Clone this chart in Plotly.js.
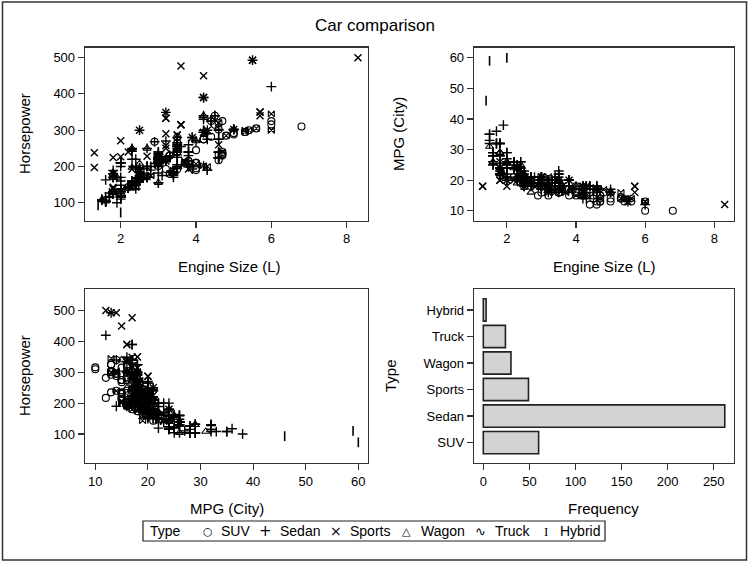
<!DOCTYPE html>
<html>
<head>
<meta charset="utf-8">
<script src="https://cdn.plot.ly/plotly-3.0.1.min.js"></script>
<style>html,body{margin:0;padding:0;background:#fff;}#chart{width:750px;height:563px;}</style>
</head>
<body>
<div id="chart"></div>
<script>
// ---------- DATA ----------
var types = ['SUV', 'Sedan', 'Sports', 'Wagon', 'Truck', 'Hybrid'];
var frequency = [60, 262, 49, 30, 24, 3];

var suvEngine = [3.5,3.0,4.4,4.2,3.4,5.3,4.6,5.3,4.2,2.5,4.7,6.8,4.6,4.0,3.0,4.2,4.8,6.0,2.4,3.5,6.0,2.7,3.5,4.5,4.2,3.2,4.0,3.7,4.0,3.5,4.6,2.5,4.4,4.7,4.7,3.3,4.6,5.4,5.0,5.0,4.0,3.8,3.8,2.4,5.6,3.5,3.3,4.5,2.2,2.5,2.5,2.5,2.7,4.0,3.3,4.7,4.7,2.4,3.2,2.9];
var suvHP     = [265,225,325,275,185,295,320,295,275,165,230,310,232,210,201,275,285,325,160,240,316,173,280,315,275,193,195,210,190,192,217,174,282,235,235,230,302,300,292,288,210,215,215,160,305,240,180,340,143,165,165,165,185,245,230,325,240,161,220,268];
var suvMPG    = [17,16,16,15,19,14,16,14,16,19,15,10,15,15,18,15,16,13,21,17,10,20,16,15,15,17,16,17,16,16,12,18,12,15,13,18,13,13,13,14,16,17,15,21,13,16,17,14,21,21,21,19,18,18,18,13,14,22,15,15];

var sedanEngine = [3.5,3.5,2.4,3.2,2.0,1.8,1.8,3.0,3.0,3.0,3.0,3.0,3.0,3.0,2.7,4.2,4.2,4.2,2.5,2.5,2.5,3.0,3.0,3.0,2.5,3.0,4.4,4.4,4.4,3.1,3.8,3.8,3.8,3.8,3.8,3.8,3.6,4.6,4.6,4.6,1.6,1.6,2.2,2.2,2.2,3.4,2.2,3.5,3.4,3.8,3.8,3.5,3.5,3.8,2.4,2.4,2.4,2.7,3.5,2.7,3.5,2.4,2.4,3.5,2.0,2.0,2.7,2.4,2.4,2.0,2.0,2.0,2.0,2.0,3.0,3.0,4.6,4.6,4.6,1.7,1.7,1.7,1.7,2.0,2.4,2.4,3.0,3.0,1.6,1.6,1.6,2.0,2.0,2.0,2.7,2.7,3.5,3.5,3.5,3.5,3.5,3.5,4.5,4.5,2.5,3.0,3.0,4.2,4.2,4.2,4.2,4.2,2.4,1.6,1.6,1.8,1.8,1.8,2.7,3.5,3.3,3.0,4.3,4.3,3.0,3.0,3.0,3.0,3.9,3.9,4.6,4.6,4.6,1.6,1.6,2.0,2.3,2.3,1.8,3.2,2.6,3.2,3.2,3.2,5.0,5.5,3.2,5.0,3.2,5.0,4.3,5.0,4.6,4.6,3.0,4.6,3.0,4.6,2.0,2.0,2.4,2.0,3.5,3.8,1.8,1.8,2.5,2.5,3.5,3.5,3.5,3.5,2.2,3.4,2.2,3.4,3.8,3.8,3.4,2.0,2.0,2.3,2.3,2.0,2.0,2.2,2.2,2.2,2.2,2.2,2.2,3.0,1.5,2.5,2.5,2.5,2.5,3.0,3.0,2.3,2.3,2.0,2.0,1.8,1.8,1.8,1.5,1.5,1.5,2.4,3.0,2.4,3.3,3.0,3.3,3.0,3.0,3.3,3.3,1.8,1.8,1.9,2.0,2.8,2.0,2.0,1.8,2.8,4.0,4.2,6.0,1.9,2.5,2.3,2.5,2.5,2.9,2.9,2.4,2.3,2.4,3.8,3.8,3.9,3.5,3.5,3.0,4.2,3.4,3.4,4.3,4.3];
var sedanHP     = [225,225,200,270,200,170,170,220,220,220,220,220,220,220,250,300,330,340,184,184,184,225,225,225,184,225,325,325,325,175,205,200,240,205,205,240,255,275,300,275,103,103,140,140,140,180,145,200,180,200,240,200,200,200,150,150,150,200,250,200,232,220,150,255,132,132,200,150,150,130,110,130,130,170,155,201,224,224,239,115,117,115,127,160,160,160,240,240,103,103,103,138,138,138,170,170,194,194,260,280,260,255,340,340,192,227,235,294,390,294,294,390,138,104,104,124,124,124,170,195,225,220,300,290,215,215,232,232,280,280,239,239,239,115,163,148,160,160,189,215,168,215,215,349,302,493,215,302,221,302,275,302,224,224,155,224,201,302,120,120,160,120,205,230,126,126,175,165,245,265,265,240,140,170,140,175,200,260,185,210,210,220,250,210,210,140,140,140,140,140,140,182,108,165,165,165,165,212,212,155,155,119,119,130,130,130,108,108,108,157,210,157,225,210,225,210,210,230,230,180,180,100,115,200,115,115,170,190,270,335,420,170,197,247,300,194,208,268,197,242,150,215,215,193,240,195,200,201,185,185,190,190];
var sedanMPG    = [18,18,22,20,24,22,23,20,17,18,20,18,20,18,18,17,17,14,20,20,19,20,20,19,19,20,18,18,18,20,20,20,18,20,20,18,18,18,18,18,28,28,26,26,26,21,24,22,21,20,18,23,22,18,22,22,22,21,18,21,19,21,22,18,29,29,21,21,21,26,27,26,26,21,20,19,17,17,17,32,36,32,32,26,26,26,21,21,29,29,29,26,26,26,19,19,17,17,18,18,18,19,17,17,18,18,18,18,17,18,18,17,23,26,25,24,24,24,20,17,20,18,18,18,18,18,20,20,17,17,17,17,17,28,25,26,25,24,22,19,20,19,20,16,16,13,20,17,19,16,18,16,17,17,20,17,19,17,25,25,23,25,18,18,28,28,21,23,21,20,20,19,24,20,24,20,20,18,19,20,20,21,21,21,21,26,26,26,26,26,24,21,32,22,21,21,20,19,19,25,25,24,22,32,32,32,35,33,35,24,21,24,20,21,20,21,21,19,19,24,24,38,24,21,24,24,22,19,18,16,12,22,20,20,18,19,20,19,21,20,20,18,18,17,18,16,18,16,19,19,14,16];

var sportsEngine = [3.2,4.2,1.8,1.8,3.2,3.2,3.2,2.5,3.0,4.6,5.7,5.7,3.2,8.3,3.8,4.6,3.9,2.2,2.7,4.2,4.2,4.2,4.2,4.3,1.8,1.8,1.3,1.3,5.0,5.5,5.5,2.3,3.2,3.0,3.0,2.0,3.5,3.5,3.6,3.6,3.6,3.6,2.7,3.2,2.0,2.5,1.8,1.8,5.7];
var sportsHP     = [290,450,180,225,250,333,333,184,225,320,350,350,215,500,193,260,280,240,172,294,294,390,390,300,142,142,197,238,302,493,493,192,349,210,210,271,287,287,315,315,315,477,228,258,227,300,180,138,340];
var sportsMPG    = [17,15,20,20,21,16,16,20,21,17,18,18,17,12,20,17,17,20,19,18,18,16,16,18,23,23,18,18,16,14,13,21,17,21,21,18,20,20,18,17,18,17,20,18,20,18,24,26,16];

var wagonEngine = [3.0,4.2,2.5,3.5,2.0,3.0,1.6,3.0,2.6,3.2,5.0,2.4,3.5,1.8,2.3,2.2,2.5,2.3,1.8,1.8,1.8,4.0,1.9,2.5,1.5,2.7,2.5,3.0,1.8,2.3];
var wagonHP     = [220,340,184,250,130,155,104,215,168,221,302,160,245,130,250,140,165,155,130,180,170,270,170,208,108,250,165,212,170,197];
var wagonMPG    = [18,15,19,17,26,19,26,18,19,19,16,25,20,29,19,24,21,24,29,24,22,18,22,20,31,16,22,19,22,21];

var truckEngine = [5.3,2.8,4.3,6.0,5.3,3.7,3.7,3.7,4.2,5.4,2.3,2.8,4.8,6.0,2.3,4.0,2.4,3.3,5.6,2.5,2.4,3.4,4.7,6.0];
var truckHP     = [295,175,200,300,300,210,210,215,202,300,143,175,285,300,143,207,143,180,305,165,142,190,240,345];
var truckMPG    = [14,18,15,13,16,16,16,16,15,14,24,18,17,13,24,15,19,17,14,21,22,16,14,13];

var hybridEngine = [1.4, 2.0, 1.5];
var hybridHP     = [93, 73, 110];
var hybridMPG    = [46, 60, 59];

var legendSymbols = ['\u25CB', '+', '\u00D7', '\u25B3', '\u223F', 'I'];

// ---------- STYLES ----------
var FONT = 'Liberation Sans, Arial, sans-serif';
var groups = [
  {name:'SUV',    e:suvEngine,    h:suvHP,    m:suvMPG,    mk:{symbol:'circle-open', size:7, color:'#000', line:{width:1.1, color:'#000'}}},
  {name:'Sedan',  e:sedanEngine,  h:sedanHP,  m:sedanMPG,  mk:{symbol:'cross-thin-open', size:7, color:'#000', line:{width:1.4, color:'#000'}}},
  {name:'Sports', e:sportsEngine, h:sportsHP, m:sportsMPG, mk:{symbol:'x-thin-open', size:7, color:'#000', line:{width:1.4, color:'#000'}}},
  {name:'Wagon',  e:wagonEngine,  h:wagonHP,  m:wagonMPG,  mk:{symbol:'triangle-up-open', size:7, color:'#000', line:{width:1.1, color:'#000'}}},
  {name:'Truck',  e:truckEngine,  h:truckHP,  m:truckMPG,  mk:{symbol:'bowtie-open', size:6, color:'#000', line:{width:1.1, color:'#000'}}},
  {name:'Hybrid', e:hybridEngine, h:hybridHP, m:hybridMPG, mk:{symbol:'line-ns-open', size:7, color:'#000', line:{width:1.6, color:'#000'}}}
];

function mkTrace(g, x, y, xa, ya) {
  return {x:x, y:y, xaxis:xa, yaxis:ya, type:'scatter', mode:'markers', name:g.name,
    marker:g.mk, showlegend:false, hoverinfo:'skip'};
}

var traces = [];
groups.forEach(function(g){ traces.push(mkTrace(g, g.e, g.h, 'x', 'y')); });
groups.forEach(function(g){ traces.push(mkTrace(g, g.e, g.m, 'x2', 'y2')); });
groups.forEach(function(g){ traces.push(mkTrace(g, g.m, g.h, 'x3', 'y3')); });
traces.push({type:'bar', orientation:'h', x:frequency, y:types, xaxis:'x4', yaxis:'y4',
  marker:{color:'#d3d3d3', line:{color:'#222', width:1.6}}, showlegend:false, hoverinfo:'skip'});

function ax(extra) {
  return Object.assign({showline:true, mirror:true, linecolor:'#333', linewidth:1.3,
    ticks:'outside', ticklen:6, tickwidth:1.1, tickcolor:'#333', showgrid:false, zeroline:false,
    tickfont:{family:FONT, size:13, color:'#000'}, fixedrange:true}, extra);
}
function px(v){ return v/750; }
function py(v){ return 1 - v/563; }

var L = [px(85), px(368)], R = [px(474), px(734)];
var T = [py(220.5), py(47.5)], B = [py(463), py(289)];

var ann = [];
function label(text, x, y, size, angle, anchor) {
  ann.push({text:text, xref:'paper', yref:'paper', x:px(x), y:py(y), showarrow:false,
    xanchor:anchor||'center', yanchor:'middle', textangle:angle||0,
    font:{family:FONT, size:size, color:'#000'}});
}
label('Horsepower', 24, 134, 15, -90);
label('Engine Size (L)', 230, 266, 15);
label('MPG (City)', 398, 134, 15, -90);
label('Engine Size (L)', 604, 266, 15);
label('Horsepower', 24, 376, 15, -90);
label('MPG (City)', 227, 508, 15);
label('Type', 390, 376, 15, -90);
label('Frequency', 603, 508, 15);

// legend (text)
label('Type', 148, 531, 14, 0, 'left');
var symX = [207.7, 265, 335.7, 406.7, 480, 545.7];
var nameX = [219, 278, 348, 419, 493, 558];
var symSize = [11, 15, 14, 11, 13, 13];
types.forEach(function(t, i){
  ann.push({text:legendSymbols[i], xref:'paper', yref:'paper', x:px(symX[i]), y:py(531), showarrow:false,
    xanchor:'center', yanchor:'middle',
    font:{family:(i===5?'Liberation Serif':'DejaVu Sans'), size:symSize[i], color:'#000'}});
  label(t, nameX[i], 531, 14, 0, 'left');
});

var layout = {
  width:750, height:563, margin:{l:0, r:0, t:0, b:0},
  paper_bgcolor:'#fff', plot_bgcolor:'#fff',
  font:{family:FONT, color:'#000'},
  title:{text:'Car comparison', x:0.5, xanchor:'center', y:py(25), yanchor:'middle', font:{family:FONT, size:17, color:'#000'}},
  showlegend:false,
  xaxis: ax({domain:L, range:[1.052, 8.566], tickvals:[2,4,6,8], anchor:'y'}),
  yaxis: ax({domain:T, range:[51, 528], tickvals:[100,200,300,400,500], anchor:'x'}),
  xaxis2: ax({domain:R, range:[1.05, 8.57], tickvals:[2,4,6,8], anchor:'y2'}),
  yaxis2: ax({domain:T, range:[6.8, 63.4], tickvals:[10,20,30,40,50,60], anchor:'x2'}),
  xaxis3: ax({domain:L, range:[8.04, 61.84], tickvals:[10,20,30,40,50,60], anchor:'y3'}),
  yaxis3: ax({domain:B, range:[6, 570], tickvals:[100,200,300,400,500], anchor:'x3'}),
  xaxis4: ax({domain:R, range:[-10.1, 272], tickvals:[0,50,100,150,200,250], anchor:'y4'}),
  yaxis4: ax({domain:B, type:'category', categoryorder:'array', categoryarray:types, range:[-0.77, 5.79], anchor:'x4'}),
  bargap:0.16,
  annotations: ann,
  shapes: [
    {type:'rect', xref:'paper', yref:'paper', x0:px(2.5), x1:px(746.5), y0:py(560), y1:py(2), line:{color:'#333', width:1.5}},
    {type:'rect', xref:'paper', yref:'paper', x0:px(143), x1:px(605), y0:py(541), y1:py(521), line:{color:'#222', width:1.2}}
  ]
};

Plotly.newPlot('chart', traces, layout, {staticPlot:true, displayModeBar:false});
</script>
</body>
</html>
